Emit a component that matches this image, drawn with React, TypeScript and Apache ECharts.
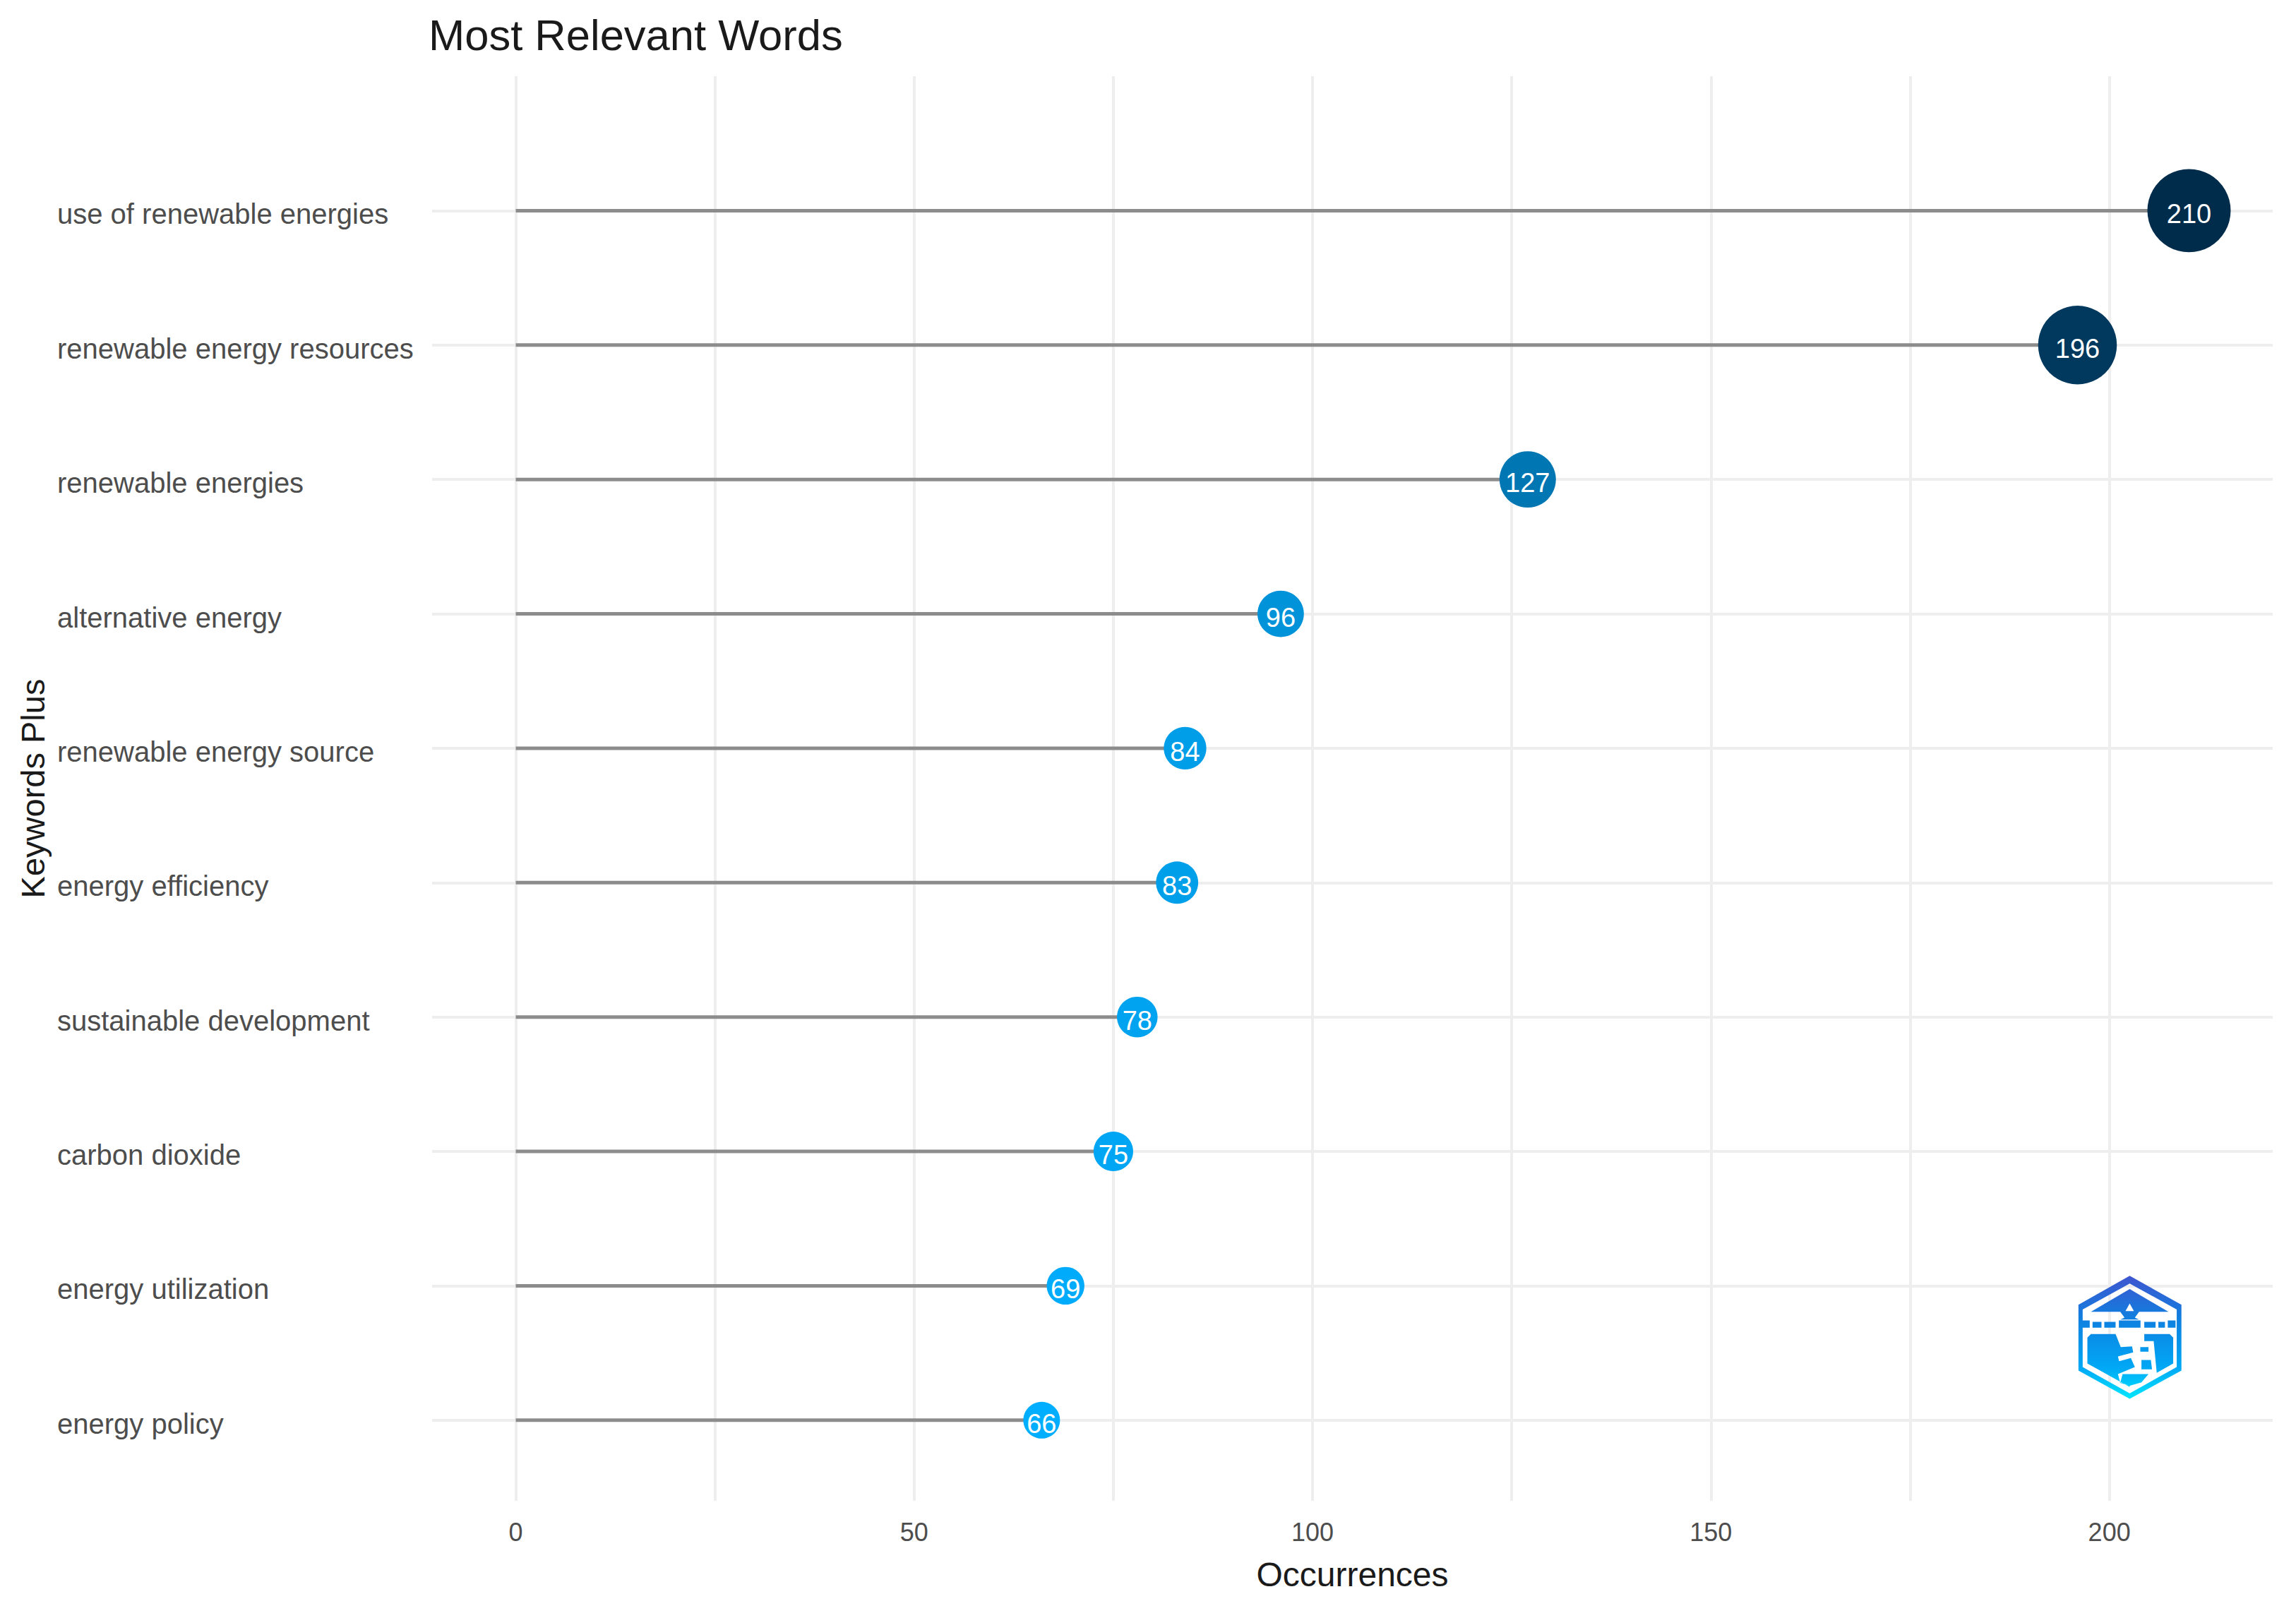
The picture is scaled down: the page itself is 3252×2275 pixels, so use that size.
import { useEffect, useRef } from "react";
import * as echarts from "echarts";

const words = [
  "use of renewable energies",
  "renewable energy resources",
  "renewable energies",
  "alternative energy",
  "renewable energy source",
  "energy efficiency",
  "sustainable development",
  "carbon dioxide",
  "energy utilization",
  "energy policy",
];
const occurrences = [210, 196, 127, 96, 84, 83, 78, 75, 69, 66];
const gridTicks = [0, 25, 50, 75, 100, 125, 150, 175, 200];
const labelTicks = [0, 50, 100, 150, 200];

const FONT = "Liberation Sans";

// logo redrawn by hand, in the coordinates of a 3x crop
const LOGO_D =
  "M650 172L870 295L870 575L650 695L432 575L432 295Z" +
  "M650 205L450 315L450 560L650 672L850 560L850 315Z" +
  "M650 228L815 325L690 325L672 350L690 358L610 358L628 350L610 325L485 325Z" +
  "M650 290L632 322L668 322Z" +
  "M450 362H480V393H450ZM492 368H530V393H492ZM542 368H590V393H542ZM604 362H696V393H604ZM712 368H760V393H712ZM772 368H800V393H772ZM812 362H845V393H812Z" +
  "M485 420L590 420L612 475L660 472L665 498L600 515L605 535L655 522L672 560L600 590L610 628L650 640L650 645L470 545L470 435Z" +
  "M712 420L820 420L835 435L835 545L765 585L752 450L712 450Z" +
  "M695 475H730V495H695ZM700 530H740L745 570H700ZM620 590H730L700 625L650 640L610 625Z";
echarts.graphic.registerShape("logo", echarts.graphic.extendPath(LOGO_D as any, {}) as any);

const positions = words.map((_, i) => words.length - 1 - i);
const points = occurrences.map((v, i) => [v, positions[i]]);

export default function App() {
  const ref = useRef<HTMLDivElement>(null);

  useEffect(() => {
    if (!ref.current) return;
    const chart = echarts.init(ref.current, null, { renderer: "svg" });
    chart.setOption({
      animation: false,
      backgroundColor: "#ffffff",
      textStyle: { fontFamily: FONT },
      title: {
        text: "Most Relevant Words",
        left: 607,
        top: 18,
        padding: 0,
        textStyle: { fontFamily: FONT, fontSize: 61.5, fontWeight: "normal", color: "#1a1a1a" },
      },
      grid: { left: 612, right: 33, top: 108, bottom: 149 },
      xAxis: {
        type: "value",
        min: -10.5,
        max: 220.5,
        name: "Occurrences",
        nameLocation: "middle",
        nameGap: 80,
        nameTextStyle: { fontFamily: FONT, fontSize: 48, color: "#1a1a1a" },
        axisLine: { show: false },
        axisTick: { show: false, customValues: gridTicks },
        axisLabel: {
          customValues: labelTicks,
          margin: 26,
          fontFamily: FONT,
          fontSize: 36,
          color: "#4d4d4d",
        },
        splitLine: { show: true, lineStyle: { color: "#eeeeee", width: 4 } },
      },
      yAxis: {
        type: "value",
        min: -0.6,
        max: 10,
        name: "Keywords Plus",
        nameLocation: "middle",
        nameGap: 540,
        nameTextStyle: { fontFamily: FONT, fontSize: 47, color: "#1a1a1a" },
        axisLine: { show: false },
        axisTick: { show: false, customValues: positions },
        axisLabel: {
          customValues: positions,
          align: "left",
          margin: 531,
          verticalAlign: "top",
          lineHeight: 10,
          fontFamily: FONT,
          fontSize: 40,
          color: "#4d4d4d",
          formatter: (v: number) => words[words.length - 1 - v],
        },
        splitLine: { show: true, lineStyle: { color: "#eeeeee", width: 4 } },
      },
      visualMap: {
        show: false,
        type: "continuous",
        seriesIndex: 1,
        dimension: 0,
        min: 66,
        max: 210,
        inRange: { color: ["#00aeff", "#002c4c"] },
      },
      series: [
        {
          type: "custom",
          z: 2,
          silent: true,
          data: points,
          renderItem: (_: any, api: any) => {
            const start = api.coord([0, api.value(1)]);
            const end = api.coord([api.value(0), api.value(1)]);
            return {
              type: "line",
              shape: { x1: start[0], y1: start[1], x2: end[0], y2: end[1] },
              style: { stroke: "#8c8c8c", lineWidth: 5 },
            };
          },
        },
        {
          type: "scatter",
          z: 3,
          data: points,
          symbol: "circle",
          itemStyle: { opacity: 1 },
          // diameter grows with the count, as ggplot's size scale does
          symbolSize: (d: number[]) => 52 + (d[0] - 66) * 0.458,
          label: {
            show: true,
            position: "inside",
            offset: [0, 5],
            formatter: (p: any) => String(p.value[0]),
            fontFamily: FONT,
            fontSize: 38,
            color: "#ffffff",
          },
        },
      ],
      graphic: [
        {
          type: "logo",
          x: 2800,
          y: 1750,
          scaleX: 1 / 3,
          scaleY: 1 / 3,
          silent: true,
          z: 10,
          style: {
            fill: {
              type: "linear",
              x: 0,
              y: 0,
              x2: 0,
              y2: 1,
              colorStops: [
                { offset: 0, color: "#3f55cf" },
                { offset: 0.35, color: "#0f80e0" },
                { offset: 0.75, color: "#00a8f5" },
                { offset: 1, color: "#00e6ff" },
              ],
            },
          },
        },
      ],
    });
    return () => chart.dispose();
  }, []);

  return (
    <div
      ref={ref}
      style={{ position: "absolute", left: 0, top: 0, width: 3252, height: 2275 }}
    />
  );
}
